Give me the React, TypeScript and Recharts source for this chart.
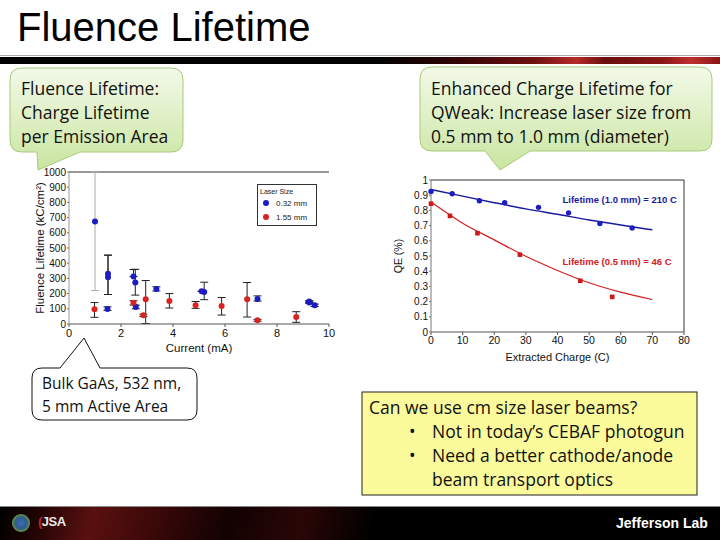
import React from "react";
import {
  ScatterChart,
  ComposedChart,
  Scatter,
  Line,
  XAxis,
  YAxis,
  ZAxis,
  ErrorBar,
  ReferenceLine,
  ReferenceDot,
  Legend,
  Label,
} from "recharts";

// ---- left plot: fluence lifetime vs current ----
const currentTicks = [0, 2, 4, 6, 8, 10];
const lifetimeTicks = [0, 100, 200, 300, 400, 500, 600, 700, 800, 900, 1000];

// 0.32 mm laser spot
const smallCurrent = [1.5, 1.5, 1.48, 2.48, 2.55, 2.57, 3.36, 5.1, 5.2, 7.25, 9.24, 9.24, 9.45];
const smallLifetime = [330, 308, 99, 313, 273, 112, 231, 215, 210, 165, 148, 141, 123];
const smallErrLow = [136, 114, 10, 0, 83, 12, 14, 0, 50, 14, 6, 6, 8];
const smallErrHigh = [123, 145, 14, 45, 87, 12, 14, 0, 65, 20, 6, 6, 8];

// the first 0.32 mm point, its error bar runs off the top (grey in the original)
const outlierCurrent = [1.0];
const outlierLifetime = [675];
const outlierErrLow = [455];
const outlierErrHigh = [325];

// 1.55 mm laser spot
const largeCurrent = [0.98, 2.48, 2.86, 2.95, 3.86, 4.87, 5.87, 6.85, 7.25, 8.74];
const largeLifetime = [97, 139, 57, 163, 152, 123, 119, 163, 24, 46];
const largeErrLow = [53, 14, 8, 160, 47, 20, 60, 117, 6, 35];
const largeErrHigh = [44, 14, 8, 123, 48, 25, 55, 110, 6, 35];

// ---- right plot: QE vs extracted charge ----
const chargeTicks = [0, 10, 20, 30, 40, 50, 60, 70, 80];
const qeTicks = [0, 0.1, 0.2, 0.3, 0.4, 0.5, 0.6, 0.7, 0.8, 0.9, 1];

const bigSpotCharge = [0, 6.7, 15.3, 23.3, 34, 43.5, 53.4, 63.6];
const bigSpotQE = [0.925, 0.91, 0.863, 0.85, 0.82, 0.784, 0.714, 0.685];
const bigFitCharge = [0, 10, 20, 30, 40, 50, 60, 70];
const bigFitQE = [0.938, 0.894, 0.851, 0.81, 0.774, 0.737, 0.704, 0.672];

const smallSpotCharge = [0, 6, 14.7, 28.1, 47.2, 57.3];
const smallSpotQE = [0.844, 0.764, 0.65, 0.509, 0.337, 0.231];
const smallFitCharge = [0, 10, 20, 30, 40, 50, 60, 70];
const smallFitQE = [0.855, 0.716, 0.606, 0.498, 0.405, 0.324, 0.262, 0.214];

const zip = (xs: number[], ys: number[], lo?: number[], hi?: number[]) =>
  xs.map((x, i) => ({
    x,
    y: ys[i],
    err: lo && hi ? [lo[i], hi[i]] : undefined,
  }));

const smallData = zip(smallCurrent, smallLifetime, smallErrLow, smallErrHigh);
const outlierData = zip(outlierCurrent, outlierLifetime, outlierErrLow, outlierErrHigh);
const largeData = zip(largeCurrent, largeLifetime, largeErrLow, largeErrHigh);
const bigPts = zip(bigSpotCharge, bigSpotQE);
const bigFit = zip(bigFitCharge, bigFitQE);
const smallPts = zip(smallSpotCharge, smallSpotQE);
const smallFit = zip(smallFitCharge, smallFitQE);

const BLUE = "#1c1cc4";
const RED = "#dd2020";
const PLOT_FONT = "'Liberation Sans', Arial, sans-serif";
const SLIDE_FONT = "'Open Sans', 'Noto Sans', sans-serif";

const dot = (r: number) => (props: any) =>
  <circle cx={props.cx} cy={props.cy} r={r} fill={props.fill} />;

const LaserLegend = ({ payload }: any) => (
  <div
    style={{
      border: "1px solid #333",
      background: "#fff",
      width: 60,
      height: 42,
      boxSizing: "border-box",
      fontFamily: PLOT_FONT,
      fontSize: 8,
      color: "#222",
      padding: "2px 0 0 2px",
    }}
  >
    <div style={{ fontSize: 7, lineHeight: "9px" }}>Laser Size</div>
    {(payload || [])
      .filter((p: any) => p.type !== "none")
      .map((p: any) => (
        <div key={p.value} style={{ display: "flex", alignItems: "center", height: 14, paddingLeft: 3 }}>
          <span
            style={{
              display: "inline-block",
              width: 6,
              height: 6,
              borderRadius: 3,
              background: p.color,
              marginRight: 7,
            }}
          />
          {p.value}
        </div>
      ))}
  </div>
);

const FluenceChart = () => (
  <ScatterChart width={320} height={200} margin={{ top: 10, right: 11, bottom: 8, left: 19 }}>
    <XAxis
      type="number"
      dataKey="x"
      domain={[0, 10]}
      ticks={currentTicks}
      interval={0}
      height={30}
      tick={{ fontSize: 11, fill: "#111" }}
      axisLine={{ stroke: "#555" }}
      tickLine={{ stroke: "#555" }}
      tickSize={3}
    >
      <Label value="Current (mA)" position="insideBottom" offset={2} style={{ fontSize: 11.5, fill: "#111" }} />
    </XAxis>
    <YAxis
      type="number"
      dataKey="y"
      domain={[0, 1000]}
      ticks={lifetimeTicks}
      interval={0}
      width={30}
      allowDataOverflow
      tick={{ fontSize: 10, fill: "#111" }}
      axisLine={{ stroke: "#999" }}
      tickLine={{ stroke: "#777" }}
      tickSize={2}
      tickMargin={1}
    >
      <Label
        value="Fluence Lifetime (kC/cm²)"
        position="insideLeft"
        angle={-90}
        offset={1}
        style={{ fontSize: 11.5, fill: "#111", textAnchor: "middle" }}
      />
    </YAxis>
    <ZAxis range={[30, 30]} />
    <ReferenceLine y={1000} stroke="#333" />
    <Legend
      layout="vertical"
      align="center"
      verticalAlign="middle"
      content={<LaserLegend />}
      wrapperStyle={{ left: 237, top: 22, width: 60 }}
    />
    <Scatter name="outlier" data={outlierData} fill={BLUE} shape={dot(3)} legendType="none" isAnimationActive={false}>
      <ErrorBar dataKey="err" direction="y" width={4} stroke="#aaa" strokeWidth={1} />
    </Scatter>
    <Scatter name="0.32 mm" data={smallData} fill={BLUE} shape={dot(3)} isAnimationActive={false}>
      <ErrorBar dataKey="err" direction="y" width={4} stroke="#222" strokeWidth={1} />
    </Scatter>
    <Scatter name="1.55 mm" data={largeData} fill={RED} shape={dot(3)} isAnimationActive={false}>
      <ErrorBar dataKey="err" direction="y" width={4} stroke="#222" strokeWidth={1} />
    </Scatter>
  </ScatterChart>
);

const QEChart = () => (
  <ComposedChart width={320} height={200} margin={{ top: 10, right: 16, bottom: 8, left: 10 }}>
    <XAxis
      type="number"
      dataKey="x"
      domain={[0, 80]}
      ticks={chargeTicks}
      interval={0}
      height={30}
      tick={{ fontSize: 10.5, fill: "#111" }}
      axisLine={{ stroke: "#555" }}
      tickLine={{ stroke: "#555" }}
      tickSize={3}
    >
      <Label value="Extracted Charge (C)" position="insideBottom" offset={1} style={{ fontSize: 11, fill: "#111" }} />
    </XAxis>
    <YAxis
      type="number"
      dataKey="y"
      domain={[0, 1]}
      ticks={qeTicks}
      interval={0}
      width={41}
      tick={{ fontSize: 10, fill: "#111" }}
      axisLine={{ stroke: "#777" }}
      tickLine={{ stroke: "#777" }}
      tickSize={2}
      tickMargin={1}
    >
      <Label
        value="QE (%)"
        position="insideLeft"
        angle={-90}
        offset={8}
        style={{ fontSize: 10.5, fill: "#111", textAnchor: "middle" }}
      />
    </YAxis>
    <ReferenceLine y={1} stroke="#333" />
    <ReferenceLine x={80} stroke="#333" />
    <Line data={bigFit} dataKey="y" type="monotone" stroke="#1a1a9e" strokeWidth={1.5} dot={false} isAnimationActive={false} />
    <Line data={smallFit} dataKey="y" type="monotone" stroke="#d42020" strokeWidth={1.2} dot={false} isAnimationActive={false} />
    <Scatter data={bigPts} fill={BLUE} shape={dot(2.7)} isAnimationActive={false} />
    <Scatter
      data={smallPts}
      fill="#cc1818"
      shape={(p: any) => <rect x={p.cx - 2.3} y={p.cy - 2.3} width={4.6} height={4.6} fill={p.fill} />}
      isAnimationActive={false}
    />
    <ReferenceDot x={40} y={0.868} r={0} fill="none" stroke="none">
      <Label
        value="Lifetime (1.0 mm) = 210 C"
        position="right"
        offset={5}
        style={{ fontSize: 9.5, fontWeight: 700, fill: "#1a1aa0" }}
      />
    </ReferenceDot>
    <ReferenceDot x={40} y={0.46} r={0} fill="none" stroke="none">
      <Label
        value="Lifetime (0.5 mm) =  46 C"
        position="right"
        offset={5}
        style={{ fontSize: 9.5, fontWeight: 700, fill: "#d42020", whiteSpace: "pre" }}
      />
    </ReferenceDot>
  </ComposedChart>
);

const abs = (left: number, top: number, extra: React.CSSProperties = {}): React.CSSProperties => ({
  position: "absolute",
  left,
  top,
  ...extra,
});

export default function App() {
  return (
    <div
      style={{
        position: "absolute",
        left: 0,
        top: 0,
        width: 720,
        height: 540,
        overflow: "hidden",
        background: "#fff",
        fontFamily: SLIDE_FONT,
      }}
    >
      {/* title + header stripe */}
      <div style={abs(17, 2, { fontFamily: PLOT_FONT, fontSize: 40, lineHeight: "50px", color: "#000" })}>
        Fluence Lifetime
      </div>
      <div style={abs(0, 55, { width: 720, height: 1, background: "#aaa" })} />
      <div
        style={abs(0, 57, {
          width: 720,
          height: 7,
          background:
            "linear-gradient(90deg, #000 0%, #000 52%, #2a0303 62%, #6e1010 74%, #b82a2a 80%, #6a0e0e 84%, #8a1616 92%, #c03030 96%, #8a1414 100%)",
        })}
      />

      {/* callout shapes */}
      <svg width={720} height={540} style={abs(0, 0)}>
        <defs>
          <linearGradient id="calloutGreen" x1="0" y1="0" x2="0" y2="1">
            <stop offset="0%" stopColor="#f3f9e9" />
            <stop offset="100%" stopColor="#c9e59f" />
          </linearGradient>
        </defs>
        <path
          d="M 22 68 H 171 Q 183 68 183 80 V 140 Q 183 152 171 152 H 80 L 38 170 L 37 152 H 22 Q 10 152 10 140 V 80 Q 10 68 22 68 Z"
          fill="url(#calloutGreen)"
          stroke="#a9c97c"
        />
        <path
          d="M 432 67 H 700 Q 712 67 712 79 V 139 Q 712 151 700 151 H 530 L 500 170 L 485 151 H 432 Q 420 151 420 139 V 79 Q 420 67 432 67 Z"
          fill="url(#calloutGreen)"
          stroke="#a9c97c"
        />
        <path
          d="M 42 368 H 60 L 84 338 L 100 368 H 187 Q 197 368 197 378 V 410 Q 197 420 187 420 H 42 Q 32 420 32 410 V 378 Q 32 368 42 368 Z"
          fill="#fff"
          stroke="#111"
        />
        <rect x={362} y={392} width={335} height={103} fill="#fbfb9c" stroke="#222" />
      </svg>

      {/* charts */}
      <div style={abs(20, 162, { fontFamily: PLOT_FONT })}>
        <FluenceChart />
      </div>
      <div style={abs(380, 170, { fontFamily: PLOT_FONT })}>
        <QEChart />
      </div>

      {/* callout text */}
      <div style={abs(21, 76, { fontSize: 17.5, lineHeight: "24px", color: "#111", whiteSpace: "nowrap" })}>
        Fluence Lifetime:
        <br />
        Charge Lifetime
        <br />
        per Emission Area
      </div>
      <div style={abs(431, 76, { fontSize: 17.5, lineHeight: "24px", color: "#111", whiteSpace: "nowrap" })}>
        Enhanced Charge Lifetime for
        <br />
        QWeak: Increase laser size from
        <br />
        0.5 mm to 1.0 mm (diameter)
      </div>
      <div style={abs(42, 372, { fontSize: 15.5, lineHeight: "23px", color: "#111", whiteSpace: "nowrap" })}>
        Bulk GaAs, 532 nm,
        <br />
        5 mm Active Area
      </div>
      <div style={abs(369, 395, { fontSize: 17.5, lineHeight: "24px", color: "#111", width: 326, whiteSpace: "nowrap" })}>
        <div>Can we use cm size laser beams?</div>
        <div style={{ position: "relative", paddingLeft: 63 }}>
          <span style={{ position: "absolute", left: 40 }}>•</span>
          Not in today’s CEBAF photogun
        </div>
        <div style={{ position: "relative", paddingLeft: 63 }}>
          <span style={{ position: "absolute", left: 40 }}>•</span>
          Need a better cathode/anode
          <br />
          beam transport optics
        </div>
      </div>

      {/* footer */}
      <div style={abs(0, 506, { width: 720, height: 1, background: "#888" })} />
      <div
        style={abs(0, 507, {
          width: 720,
          height: 33,
          background:
            "linear-gradient(105deg, #000 0%, #1e0303 5%, #5a1010 13%, #3a0808 22%, #120202 32%, #2a0606 42%, #000 52%, #000 100%)",
        })}
      />
      <div
        style={abs(12, 514, {
          width: 18,
          height: 18,
          borderRadius: 9,
          background: "radial-gradient(circle, #3c6fb0 0%, #2e5a90 45%, #6a9a3a 70%, #c8b040 100%)",
        })}
      />
      <div style={abs(38, 514, { fontFamily: PLOT_FONT, fontSize: 13, fontWeight: 700, color: "#e8e8e8", letterSpacing: -0.5 })}>
        <span style={{ color: "#c02828" }}>(</span>JSA
      </div>
      <div style={abs(616, 515, { fontFamily: PLOT_FONT, fontSize: 14, fontWeight: 700, color: "#fff", whiteSpace: "nowrap" })}>
        Jefferson Lab
      </div>
    </div>
  );
}
